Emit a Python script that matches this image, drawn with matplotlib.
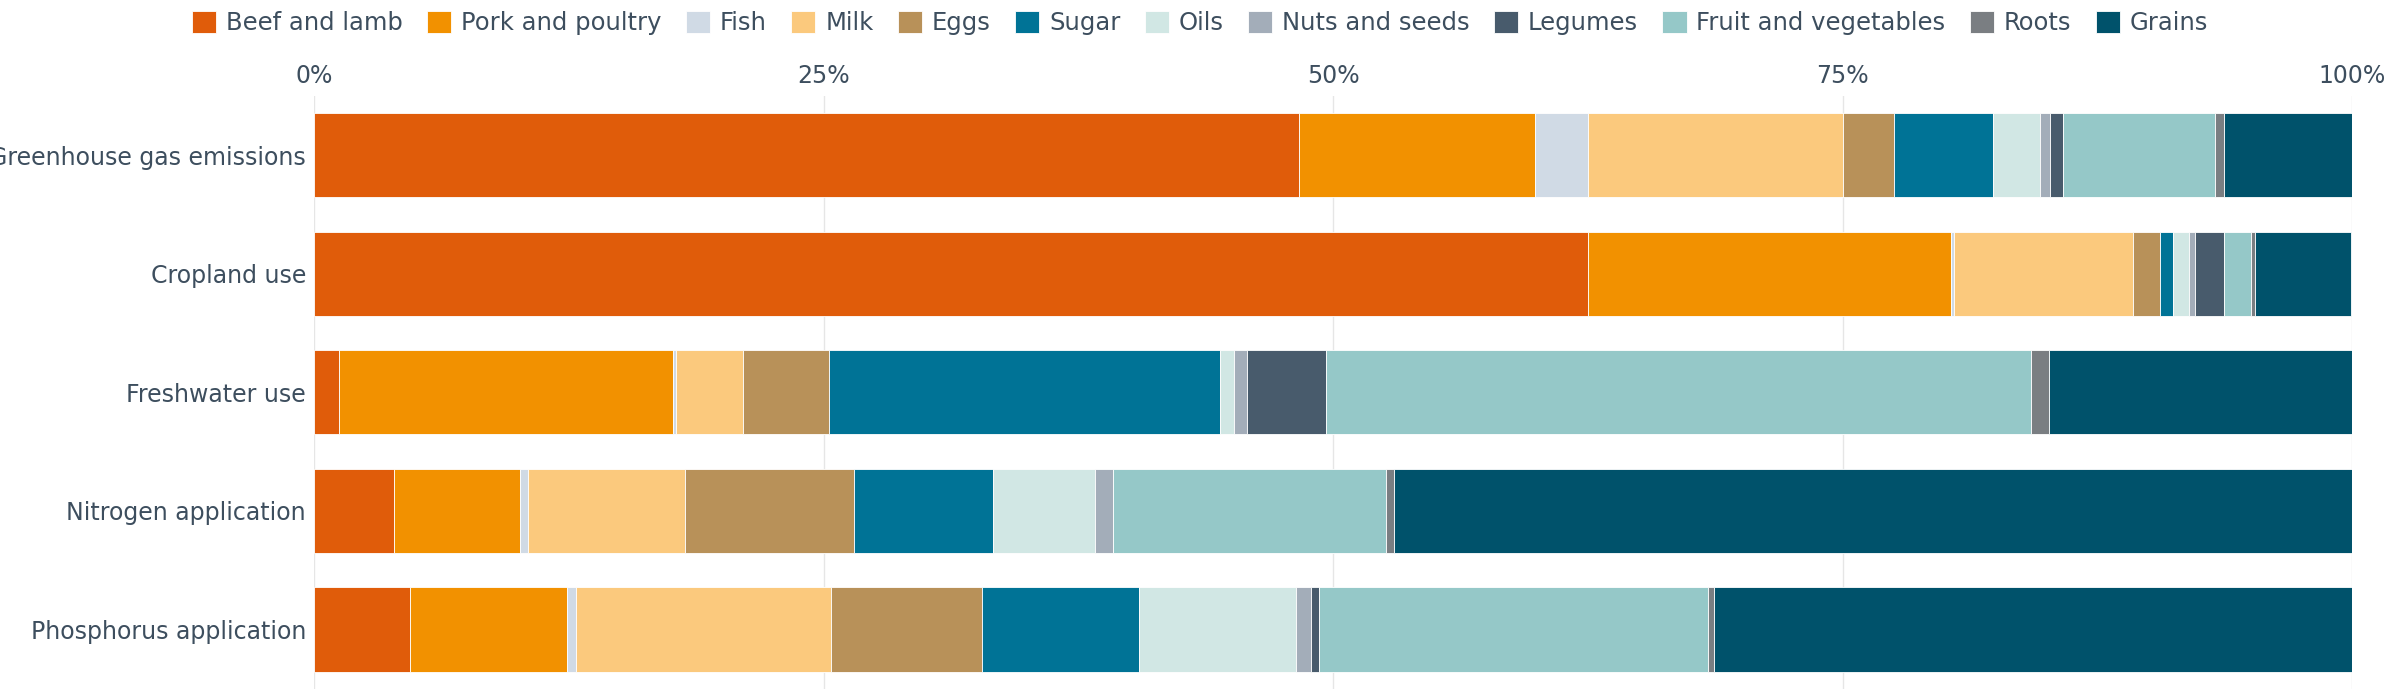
import matplotlib.pyplot as plt
import numpy as np

categories = ["Greenhouse gas emissions", "Cropland use", "Freshwater use",
              "Nitrogen application", "Phosphorus application"]
groups = ["Beef and lamb", "Pork and poultry", "Fish", "Milk", "Eggs", "Sugar",
          "Oils", "Nuts and seeds", "Legumes", "Fruit and vegetables", "Roots", "Grains"]
colors = ["#e05c0a", "#f29100", "#d0dae5", "#fbc97d", "#b89159", "#007396",
          "#d1e7e4", "#a3adb9", "#485b6c", "#95c8c8", "#7a7e82", "#00526b"]

# percent shares, one list per food group, in order of categories
beef = [48.3, 62.5, 1.2, 3.9, 4.7]
pork = [11.6, 17.8, 16.4, 6.2, 7.7]
fish = [2.6, 0.15, 0.15, 0.4, 0.45]
milk = [12.5, 8.8, 3.3, 7.7, 12.5]
eggs = [2.5, 1.35, 4.2, 8.3, 7.4]
sugar = [4.9, 0.6, 19.2, 6.8, 7.7]
oils = [2.3, 0.8, 0.7, 5.0, 7.7]
nuts = [0.5, 0.3, 0.6, 0.9, 0.75]
legumes = [0.6, 1.4, 3.9, 0.0, 0.4]
fruitveg = [7.5, 1.35, 34.6, 13.4, 19.1]
roots = [0.4, 0.2, 0.9, 0.4, 0.3]
grains = [6.4, 4.7, 14.9, 47.0, 31.3]

series = [beef, pork, fish, milk, eggs, sugar, oils, nuts, legumes, fruitveg, roots, grains]
text_color = "#3d4e5e"

fig = plt.figure(figsize=(24, 7), dpi=100)
ax = fig.add_axes([0.131, 0.016, 0.849, 0.847])

y = np.arange(len(categories))
left = np.zeros(len(categories))
for name, vals, c in zip(groups, series, colors):
    vals = np.array(vals)
    ax.barh(y, vals, left=left, color=c, height=0.71, label=name,
            edgecolor="white", linewidth=0.6, zorder=3)
    left += vals

ax.set_xlim(0, 100)
ax.set_ylim(len(categories) - 0.5, -0.5)
ax.set_yticks(y)
ax.set_yticklabels(categories)
ax.set_xticks([0, 25, 50, 75, 100])
ax.set_xticklabels(["0%", "25%", "50%", "75%", "100%"])
ax.xaxis.tick_top()
ax.tick_params(axis="both", length=0, labelsize=17, colors=text_color, pad=6)
ax.grid(axis="x", color="#e6e6e6", linewidth=1, zorder=0)
for s in ax.spines.values():
    s.set_visible(False)

fig.legend(*ax.get_legend_handles_labels(), loc="center", bbox_to_anchor=(0.5, 0.967),
           ncol=12, frameon=False, fontsize=17.5, labelcolor=text_color,
           handlelength=1.0, handleheight=1.0, handletextpad=0.4, columnspacing=1.0)

fig.savefig("out.png", dpi=100)
